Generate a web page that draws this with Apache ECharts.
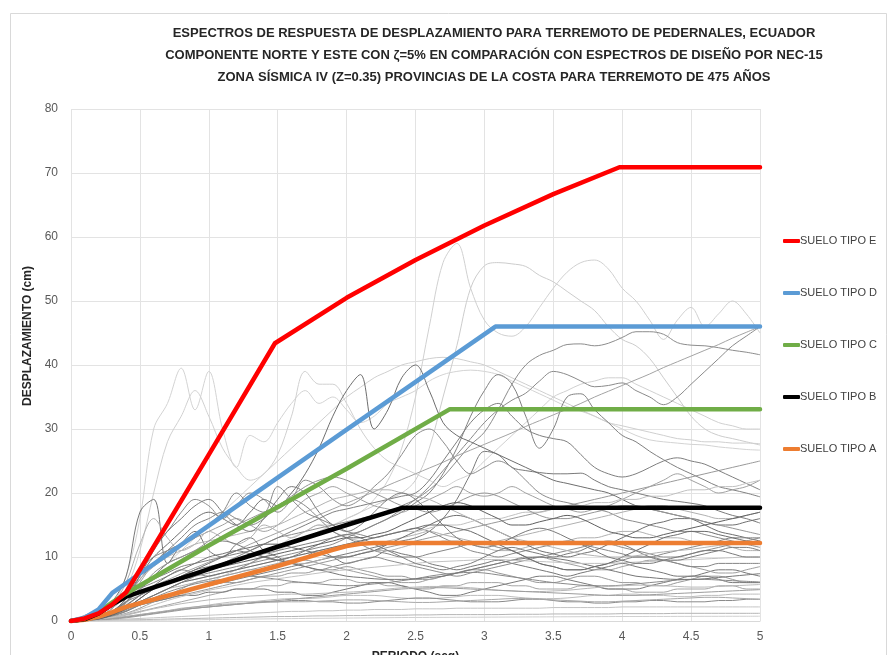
<!DOCTYPE html>
<html>
<head>
<meta charset="utf-8">
<script src="https://cdn.jsdelivr.net/npm/echarts@6/dist/echarts.min.js"></script>
<style>
  html, body { margin: 0; padding: 0; background: #ffffff; }
  #chart { width: 891px; height: 655px; }
</style>
</head>
<body>
<div id="chart"></div>
<script>
// Periods (s) shared by every recorded response spectrum
const PERIODS = [0,0.1,0.2,0.3,0.4,0.5,0.6,0.7,0.8,0.9,1,1.1,1.2,1.3,1.4,1.5,1.6,1.7,1.8,1.9,2,2.1,2.2,2.3,2.4,2.5,2.6,2.7,2.8,2.9,3,3.1,3.2,3.3,3.4,3.5,3.6,3.7,3.8,3.9,4,4.1,4.2,4.3,4.4,4.5,4.6,4.7,4.8,4.9,5];

// Displacement spectra of the recorded stations (cm), N and E components
const rec01 = [0,0.1,0.5,1.2,2,3,4,5,6,7,8,9,10,11,12,12,13,14,15,15,16,17,19,22,27,35,46,56,59,52,47,45,44.5,46,49,52,54.5,56,56.4,55,52,50,47,44,47,49,46,48,50,48,45];
const rec02 = [0,0.1,0.4,1,1.8,2.5,3,3.5,4,5,6,7,8,9,10,11,12,13,14,15,16,17,18,19,20,22,27,35,43,52,55.5,56,55.8,55.4,54,53,51.5,50,48.5,46,44,43,41,38,35,32,30,29,28.5,28,27.5];
const rec03 = [0,0.1,0.8,2.5,7,16,30,34,39.5,33,39,30,24,29,28,31,34,36,34,35,33,31,32,34,35,36,37.5,38.5,39,39.2,39,38.5,37.5,36.5,35.5,34.5,33.5,32.8,32,31,30,29,28.3,28,27.8,27.6,27.5,27.2,27,26.8,26.7];
const rec04 = [0,0.1,0.6,2,5,11,20,28,32,36,32,27,24,22,23,26,32,39,37,37,34,30,27,25,24,23,22,21,22,23,25,27,29,31,33,35,36,37,37.5,38,38,37,36,35,34,33,32,31,30.5,30,30];
const rec05 = [0,0.1,0.5,1.5,3,5,7,9,11,13,15,17,19,21,23,25,27,29,31,33,35,36.5,38,39,40,40.5,41,41.2,41,40.5,40,39,38,37,36,35,34,33,32,31,30.5,30,29.5,29,28.5,28.3,28,28,27.8,27.8,27.7];
const rec06 = [0,0.1,0.4,1,2,3,4,5,6,7,8,9,10,11,12,13,13.5,14,14.5,15,15.5,16,16.5,17,18,19,20.5,22.5,25,27.5,29.5,33,37,40,41.5,42.3,43.2,43.3,43,43.4,44.3,45.2,45.2,44.8,43.5,43.1,43,42.7,42.3,42,41.6];
const rec07 = [0,0.1,0.5,1.5,3,4,5,6,7,8,8.5,9,9.5,10,10.5,11,11.5,12,12.5,13,13.5,14,15,16,17,18.5,20,23,27,32,36,38.5,37,32,27,30,35,35.5,33,31,29,28,26.5,25.2,24,23,22,21,20.5,20,19.4];
const rec08 = [0,0.1,0.4,1,2,3,3.5,4,4.5,5,5.5,6,6.5,7,7.5,8,8.5,9,9.5,10,10.5,11,11.5,12,12.5,13,14,16,19,23,26.5,26,24,23.5,23.2,23,23,23.1,22,21,20.5,20,19.5,19,18.7,18.4,18,17.2,16.5,16,15.3];
const rec09 = [0,0.1,0.4,1.2,2.5,4,5,6,6.5,7,7.5,8,8.5,9,9.5,10,10.5,11,11.5,12,13,14,15,16,17.5,19,21,23.5,26,28.5,31,33,34.5,35.6,37.5,39,38.5,37.5,36.6,36.8,37.2,36,35,33.8,35,37,39,41,43,44.5,46];
const rec10 = [0,0.9,1.8,2.8,3.7,4.6,5.5,6.4,7.4,8.3,9.2,10.1,11,12,12.9,13.8,14.7,15.6,16.6,17.5,18.4,19.3,20.2,21.2,22.1,23,23.9,24.8,25.8,26.7,27.6,28.5,29.4,30.4,31.3,32.2,33.1,34,35,35.9,36.8,37.7,38.6,39.6,40.5,41.4,42.3,43.2,44.2,45.1,46];
const rec11 = [0,0.5,1,1.5,2,2.5,3,3.5,4,4.5,5,5.5,6,6.5,7,7.5,8,8.5,9,9.5,10,10.5,11,11.5,12,12.5,13,13.5,14,14.5,15,15.5,16,16.5,17,17.5,18,18.5,19,19.5,20,20.5,21,21.5,22,22.5,23,23.5,24,24.5,25];
const rec12 = [0,0.1,0.6,2,4,7,10,12,14,16,17,16,15,17,19,18,20,23,27,32,36,38.5,30,33,38,40,36,31,29,28,27,26,25,24,23,22,21.5,21,20.5,20,19,18,17.5,17,16.5,16,15,14,13.5,13,12.5];
const rec13 = [0,0.1,0.5,1.5,3.5,8,12,14,17,19,18,16,18,20,19,17,19,22,21,19,18,19,21,23,26,29,30,28,25,23,24,25,24,22,20,19,18.5,18,17.5,17,16,15.5,15,14.5,14,14,13.5,13,12.5,12,11.5];
const rec14 = [0,0.1,0.4,1.2,3,6,9,11,12,13,14,15,16,15,14,15,17,19,20,21,20,19,18,17.5,17,18,19,20,21,20,19.5,20,21,20,19,18,17.5,17,17.5,18,19,20,21,22,23,22,21,20,20.5,21,22];
const rec15 = [0,0.1,0.5,1.5,3,5,6.5,7.5,8.5,9,9.5,10,10.5,11,12,13,14,15,16,17,17.5,18,18.5,19,19.5,20,22,25,28,31,33,34,32,30,29,28.5,28,26,24,23,22.5,23,24,25,25.5,25,24.5,23.5,22.5,21.5,20.5];
const rec16 = [0,0.2,1,3,7,17,19,9,12,14,11,10,12,13,11,10,9,10,11,10,9,9.5,10,11,10.5,10,9,8.5,8,8.5,9,9.5,9,8.5,8,7.5,7,7.5,8,8.5,9,8.5,8,7.5,7,7,7.5,8,8,7.5,7];
const rec17 = [0,0.2,0.8,2.5,6,12,16,13,11,12,14,13,12,13,15,14,13,14,15,14,13,12.5,12,12.5,13,13.5,14,13.5,13,12.5,12,12.5,13,13.5,14,14.5,15,15.5,16,16.5,17,17.5,18,18,17.5,17,16.5,16,16,16.5,17];
const rec18 = [0,0.1,0.6,2,4.5,8,10,11,12,13,15,17,20,18,17,21,19,17,16,15,14,13.5,13,13.5,14,14.5,14,13,12,11,10.5,10,10.5,11,11.5,12,12.5,12,11.5,11,10.5,10,10,10.5,11,11.5,12,12.5,13,13,13];
const rec19 = [0,0.1,0.4,1,2,3,4,5,5.5,6,6.5,7,7.5,8,8,8.5,9,9,9.5,10,10,10.5,11,11,11.5,12,12,12.5,12.5,12,11.5,11,11,11.5,12,12,12.5,13,13,13.5,14,14,13.5,13,13,12.5,12,12,11.5,11,11];
const rec20 = [0,0.1,0.5,1.5,3,5,6,7,8,7.5,7,7.5,8,9,10,9.5,9,8.5,8,8.5,9,9.5,10,9.5,9,8.5,8,7.5,7,7.5,8,8.5,9,9.5,10,10.5,11,11.5,12,12,11.5,11,10.5,10,10,10.5,11,11.5,12,12.5,13];
const rec21 = [0,0.1,0.3,0.8,1.5,2.5,3.5,4,4.5,5,5.5,6,6,6.5,7,7,7.5,7.5,8,8,8.5,8,7.5,7,7,6.5,6.5,7,7.5,8,8,7.5,7,6.5,6,6,6.5,7,7,6.5,6,6,5.5,5.5,6,6.5,7,7,6.5,6,6];
const rec22 = [0,0.1,0.3,0.6,1,1.5,2,2.5,3,3.5,4,4.5,5,5,5.5,5.5,6,6,6,6.5,6.5,6,6,5.5,5.5,5,5,5.5,5.5,6,6,6,5.5,5.5,5,5,5,5.5,5.5,5,5,4.5,4.5,4.5,5,5,5,5.5,5.5,5,5];
const rec23 = [0,0.1,0.3,0.8,1.5,2.5,3,3.5,4,4,4.5,4.5,5,5,5,4.5,4.5,4,4,4.5,5,5.5,6,6,5.5,5,4.5,4,4,4.5,5,5.5,6,6.5,7,7,6.5,6,5.5,5,5,5,5.5,6,6.5,7,7,6.5,6,6,6];
const rec24 = [0,0.1,0.2,0.4,0.7,1,1.3,1.6,2,2.2,2.5,2.8,3,3,3.2,3.4,3.5,3.5,3.6,3.8,4,4,4,3.8,3.6,3.5,3.5,3.6,3.8,4,4,4,3.8,3.6,3.5,3.5,3.6,3.8,4,4,4.2,4.2,4,4,3.8,3.8,4,4,4.2,4.2,4.2];
const rec25 = [0,0.1,0.2,0.4,0.6,0.9,1.2,1.5,1.8,2,2.2,2.4,2.6,2.8,3,3,3.2,3.2,3,3,2.8,2.8,3,3.2,3.4,3.6,3.6,3.4,3.2,3,3,3,3.2,3.4,3.4,3.2,3,3,2.8,2.8,3,3,3.2,3.2,3,3,3,3.2,3.2,3.4,3.4];
const rec26 = [0,0.05,0.1,0.2,0.3,0.4,0.5,0.6,0.7,0.8,0.9,1,1.1,1.2,1.3,1.4,1.5,1.5,1.6,1.6,1.7,1.7,1.8,1.8,1.8,1.9,1.9,1.9,2,2,2,2,2,2,2,2.1,2.1,2.1,2.1,2.1,2.2,2.2,2.2,2.2,2.2,2.2,2.2,2.2,2.2,2.2,2.2];
const rec27 = [0,0.1,0.3,0.7,1.2,2,3,4,5,6,6.5,7,7.5,8,8.5,9,9.5,9.5,9,8.5,8,7.5,7,6.5,6,6,6.5,7,7.5,8,8.5,9,9.5,10,10,9.5,9,8.5,8,8,8.5,9,9.5,9.5,9,8.5,8,7.5,7.5,8,8.5];
const rec28 = [0,0.1,0.4,1,2,3.5,5,6,7,8,9,10,11,11.5,12,12,11.5,11,10.5,10,10,10.5,11,12,13,14,15,16,16.5,16,15,14,13,12,11,10.5,10,10.5,11,12,13,14,15,15.5,16,16,15.5,15,15,15.5,16];
const rec29 = [0,0.02,0.05,0.1,0.15,0.2,0.25,0.3,0.35,0.4,0.45,0.5,0.55,0.6,0.65,0.7,0.7,0.75,0.8,0.8,0.85,0.85,0.9,0.9,0.9,0.95,0.95,1,1,1,1,1,1.05,1.05,1.05,1.1,1.1,1.1,1.1,1.1,1.15,1.15,1.15,1.15,1.2,1.2,1.2,1.2,1.2,1.2,1.2];
const rec30 = [0,0.1,0.4,1,2,3,4,5,6,6.5,7,7.5,8,8.5,9,9.5,10,10.5,11,11.5,12,12.5,13,13.5,14,14,14.5,15,15,15.5,16,16,16.5,17,17,17.5,18,18,18.5,18.5,19,19,19.5,19.5,20,20.5,20.5,21,21,21.5,22];
const rec31 = [0,0.1,0.3,0.8,1.6,2.6,3.6,4.5,5.2,5.8,6.2,6.5,6.8,7,6.8,6.5,6.2,6,5.8,5.6,5.5,5.6,5.8,6,6.3,6.6,7,7.3,7.5,7.6,7.5,7.2,6.9,6.6,6.3,6,5.8,5.6,5.5,5.5,5.6,5.8,6,6.2,6.4,6.5,6.5,6.4,6.3,6.2,6.1];
const rec32 = [0,0.1,0.2,0.5,0.9,1.4,1.9,2.3,2.7,3,3.3,3.5,3.7,3.9,4,4.1,4.2,4.2,4.3,4.4,4.5,4.6,4.8,5,5.2,5.3,5.4,5.4,5.3,5.2,5,4.8,4.7,4.6,4.6,4.7,4.8,5,5.2,5.4,5.5,5.6,5.6,5.5,5.4,5.3,5.3,5.4,5.5,5.6,5.7];
const rec33 = [0,0.1,0.4,1.2,2.4,4,5.5,7,8,9,10,10.5,11,10.5,10,9.5,9,8.5,8,7.5,7,6.8,6.6,6.5,6.5,6.6,6.8,7,7.5,8,8.5,9,9.5,9.8,10,9.8,9.5,9,8.5,8,7.5,7,6.8,6.6,6.5,6.5,6.6,6.8,7,7.2,7.4];
const rec34 = [0,0.1,0.2,0.4,0.7,1,1.3,1.6,1.9,2.2,2.4,2.6,2.7,2.8,2.9,3,3,3,3.1,3.2,3.3,3.3,3.2,3.1,3,2.9,2.9,3,3.1,3.2,3.3,3.4,3.5,3.5,3.4,3.3,3.2,3.1,3,3,3.1,3.2,3.3,3.4,3.5,3.6,3.7,3.7,3.6,3.5,3.4];
const rec35 = [0,0.1,0.5,1.5,3.5,6.5,9,11,13,15,16,17,16,15,16,18,19,18,16,14,13,12,11,10.5,10,10,10.5,11,11.5,12,12,11.5,11,10,9,8.5,8,8,8.5,9,9.5,10,10,9.5,9,8.5,8.5,9,9,9,9];
const rec36 = [0,0.1,0.3,0.6,1.1,1.8,2.5,3.2,3.8,4.3,4.8,5.2,5.6,6,6.3,6.6,6.9,7.2,7.5,7.8,8,8.2,8.4,8.6,8.8,9,9.2,9.3,9.4,9.5,9.6,9.6,9.5,9.4,9.3,9.2,9.1,9,9,9,9.1,9.2,9.3,9.4,9.5,9.6,9.7,9.8,9.9,10,10];
const rec37 = [0,0.1,0.3,0.9,1.8,3,4,5,6,6.5,7,7.5,8,8.5,9,9.5,10,10.5,11,11.5,12,12.5,13,13.5,14,14.5,15,15,14.5,14,13,12,11,10,9,8.5,8,8,8.5,9,10,11,12,13,13.5,14,14,13.5,13,12.5,12];
const rec38 = [0,0.05,0.15,0.3,0.5,0.8,1.1,1.4,1.7,2,2.2,2.4,2.6,2.8,3,3.2,3.4,3.6,3.8,4,4.2,4.4,4.6,4.8,5,5.1,5.2,5.2,5.1,5,4.9,4.8,4.7,4.6,4.5,4.4,4.3,4.2,4.1,4,4,4,4.1,4.2,4.3,4.4,4.5,4.6,4.7,4.8,4.9];
const rec39 = [0,0.01,0.03,0.05,0.08,0.1,0.12,0.15,0.18,0.2,0.22,0.25,0.28,0.3,0.32,0.35,0.37,0.4,0.42,0.44,0.46,0.48,0.5,0.52,0.54,0.55,0.56,0.57,0.58,0.59,0.6,0.61,0.62,0.63,0.64,0.65,0.66,0.67,0.68,0.69,0.7,0.7,0.71,0.71,0.72,0.72,0.73,0.73,0.74,0.74,0.75];
const rec40 = [0,0.1,0.5,1.5,3,5,7,9,10,11,12,12.5,12,11,10,9.5,10,11,12,13,13.5,13,12,11,10,9,8.5,8,8.5,9,10,11,11.5,11,10.5,10,10.5,11,12,12.5,12,11,10,9.5,9.5,10,10.5,11,11.5,11.5,11];
const rec41 = [0,0.1,0.6,2,4,6.5,8.5,10,11,12,12.5,13,13.5,14,14.5,15,16,17,18,19,19.5,20,20.5,20.5,20,19.5,19,18,17,16,15,14,13,12.5,12,11.5,11,10.5,10.2,10,10,10.2,10.5,10.8,11,11.2,11.5,11.8,12,12,12];
const rec42 = [0,0.1,0.5,1.5,3.5,7,11,14,16,18,19,17,15,14,16,19,21,20,17,15,14,15,17,19,20,19,17,15,13,12,11.5,12,13,14,14.5,14,13,12,11,10,9.5,9,9,9.5,10,10.5,11,11,10.5,10,10];
const rec43 = [0,0.1,0.4,1.2,2.8,5,7.5,9,10,11,12.5,14,15,16,17,18,19.5,21,22,22.5,22,21,20,19,18,17.5,17,17.5,18.5,19.5,20,19.5,18.5,17.5,16.5,16,16,16.5,17,17.5,18,18,17.5,17,16.5,16,15.5,15,14.5,14,13.5];
const rec44 = [0,0.1,0.3,1,2,3.5,5,6,7,7.5,8,8.5,9,9.5,10,10.5,11,11.5,12,12.5,13,13,13.5,14,15,16,17,18,18.5,18,17,16,15,15,15.5,16,16.5,16,15,14,13.5,13,13,13.5,14,14.5,15,15.5,16,16.5,17];

const RECORDS = [rec01,rec02,rec03,rec04,rec05,rec06,rec07,rec08,rec09,rec10,rec11,rec12,rec13,rec14,rec15,rec16,rec17,rec18,rec19,rec20,rec21,rec22,rec23,rec24,rec25,rec26,rec27,rec28,rec29,rec30,rec31,rec32,rec33,rec34,rec35,rec36,rec37,rec38,rec39,rec40,rec41,rec42,rec43,rec44];
const RECORD_GREYS = ['#d0d0d0','#cccccc','#d3d3d3','#d0d0d0','#cfcfcf','#8c8c8c','#808080','#7a7a7a','#8a8a8a','#a3a3a3','#999999','#6e6e6e','#8c8c8c','#a0a0a0','#7f7f7f','#777777','#b0b0b0','#888888','#b0b0b0','#8c8c8c','#999999','#a6a6a6','#7a7a7a','#bdbdbd','#8a8a8a','#c4c4c4','#9e9e9e','#6f6f6f','#b5b5b5','#c0c0c0','#8a8a8a','#b8b8b8','#767676','#a8a8a8','#858585','#c2c2c2','#6b6b6b','#9c9c9c','#d0d0d0','#7d7d7d','#b3b3b3','#7a7a7a','#969696','#5f5f5f'];

// NEC-15 design displacement spectra, zone IV (Z = 0.35)
const SOIL_NAMES = ['SUELO TIPO E','SUELO TIPO D','SUELO TIPO C','SUELO TIPO B','SUELO TIPO A'];
const SOIL_COLORS = ['#ff0000','#5b9bd5','#70ad47','#000000','#ed7d31'];
const tE = [0,0.1,0.2,0.3,0.4,0.5,1.0,1.48,2.0,2.5,3.0,3.5,3.98,5.0];
const dE = [0,0.4,1.2,2.6,4.5,8,26,43.4,50.5,56.4,61.8,66.7,70.9,70.9];
const tD = [0,0.1,0.2,0.3,0.4,1.0,2.0,3.08,5.0];
const dD = [0,0.5,1.8,4.4,5.9,14.9,29.9,46,46];
const tC = [0,0.1,0.2,0.3,0.4,1.0,2.0,2.75,5.0];
const dC = [0,0.4,1.4,2.9,4.3,11.8,23.8,33.1,33.1];
const tB = [0,0.1,0.2,0.3,0.4,1.0,1.5,2.0,2.41,5.0];
const dB = [0,0.3,1.2,2.6,3.8,8.1,11.6,15,17.7,17.7];
const tA = [0,0.1,0.2,0.3,0.4,1.0,1.5,1.9,2.0,2.1,2.2,5.0];
const dA = [0,0.2,0.7,1.4,2.2,5.7,8.6,11.1,11.7,12.05,12.2,12.2];
const SOIL_T = [tE,tD,tC,tB,tA];
const SOIL_D = [dE,dD,dC,dB,dA];

const X_TICKS = { min: 0, max: 5, interval: 0.5 };
const Y_TICKS = { min: 0, max: 80, interval: 10 };

const FONT = "'Liberation Sans',sans-serif";

const pairs = (xs, ys) => xs.map((x, i) => [x, ys[i]]);

const series = [];
RECORDS.forEach((rec, i) => {
  series.push({
    name: 'registro ' + (i + 1),
    type: 'line',
    data: pairs(PERIODS, rec),
    smooth: 0.35,
    symbol: 'none',
    silent: true,
    z: 2,
    lineStyle: { color: RECORD_GREYS[i], width: 1 }
  });
});
// draw A first so that E ends up on top
for (let k = SOIL_NAMES.length - 1; k >= 0; k--) {
  series.push({
    name: SOIL_NAMES[k],
    type: 'line',
    data: pairs(SOIL_T[k], SOIL_D[k]),
    smooth: false,
    symbol: 'none',
    z: 3,
    color: SOIL_COLORS[k],
    lineStyle: { color: SOIL_COLORS[k], width: 4.5, cap: 'round', join: 'round' }
  });
}

const chart = echarts.init(document.getElementById('chart'), null, { renderer: 'canvas' });
chart.setOption({
  animation: false,
  backgroundColor: '#ffffff',
  textStyle: { fontFamily: FONT },
  title: {
    text: 'ESPECTROS DE RESPUESTA DE DESPLAZAMIENTO PARA TERREMOTO DE PEDERNALES, ECUADOR\nCOMPONENTE NORTE Y ESTE CON ζ=5% EN COMPARACIÓN CON ESPECTROS DE DISEÑO POR NEC-15\nZONA SÍSMICA IV (Z=0.35) PROVINCIAS DE LA COSTA PARA TERREMOTO DE 475 AÑOS',
    left: 489,
    top: 17,
    textAlign: 'center',
    textStyle: { fontFamily: FONT, fontSize: 13, fontWeight: 'bold', color: '#262626', lineHeight: 22 }
  },
  graphic: [{
    type: 'rect',
    shape: { x: 10.5, y: 13.5, width: 876, height: 660 },
    style: { fill: 'none', stroke: '#d9d9d9', lineWidth: 1 },
    silent: true
  }],
  legend: {
    data: SOIL_NAMES,
    orient: 'vertical',
    left: 783,
    top: 234,
    padding: 0,
    itemWidth: 17,
    itemHeight: 4,
    itemGap: 38,
    icon: 'roundRect',
    textStyle: { fontFamily: FONT, fontSize: 11, color: '#404040', lineHeight: 14, padding: [0, 0, 0, -5] }
  },
  grid: { left: 71, right: 131, top: 109, bottom: 34, containLabel: false, outerBoundsMode: 'none' },
  xAxis: {
    type: 'value',
    min: X_TICKS.min, max: X_TICKS.max, interval: X_TICKS.interval,
    name: 'PERIODO (seg)',
    nameLocation: 'middle',
    nameGap: 30,
    nameTextStyle: { fontFamily: FONT, fontSize: 12, fontWeight: 'bold', color: '#262626' },
    axisLine: { show: true, lineStyle: { color: '#d9d9d9' } },
    axisTick: { show: false },
    axisLabel: { fontFamily: FONT, fontSize: 12, color: '#595959', margin: 10 },
    splitLine: { show: true, lineStyle: { color: '#e3e3e3', width: 1 } }
  },
  yAxis: {
    type: 'value',
    min: Y_TICKS.min, max: Y_TICKS.max, interval: Y_TICKS.interval,
    name: 'DESPLAZAMIENTO (cm)',
    nameLocation: 'middle',
    nameGap: 35,
    nameTextStyle: { fontFamily: FONT, fontSize: 12, fontWeight: 'bold', color: '#262626', padding: [0, 0, 0, 58] },
    axisLine: { show: false },
    axisTick: { show: false },
    axisLabel: { fontFamily: FONT, fontSize: 12, color: '#595959', margin: 13 },
    splitLine: { show: true, lineStyle: { color: '#e3e3e3', width: 1 } }
  },
  series: series
});
</script>
</body>
</html>
